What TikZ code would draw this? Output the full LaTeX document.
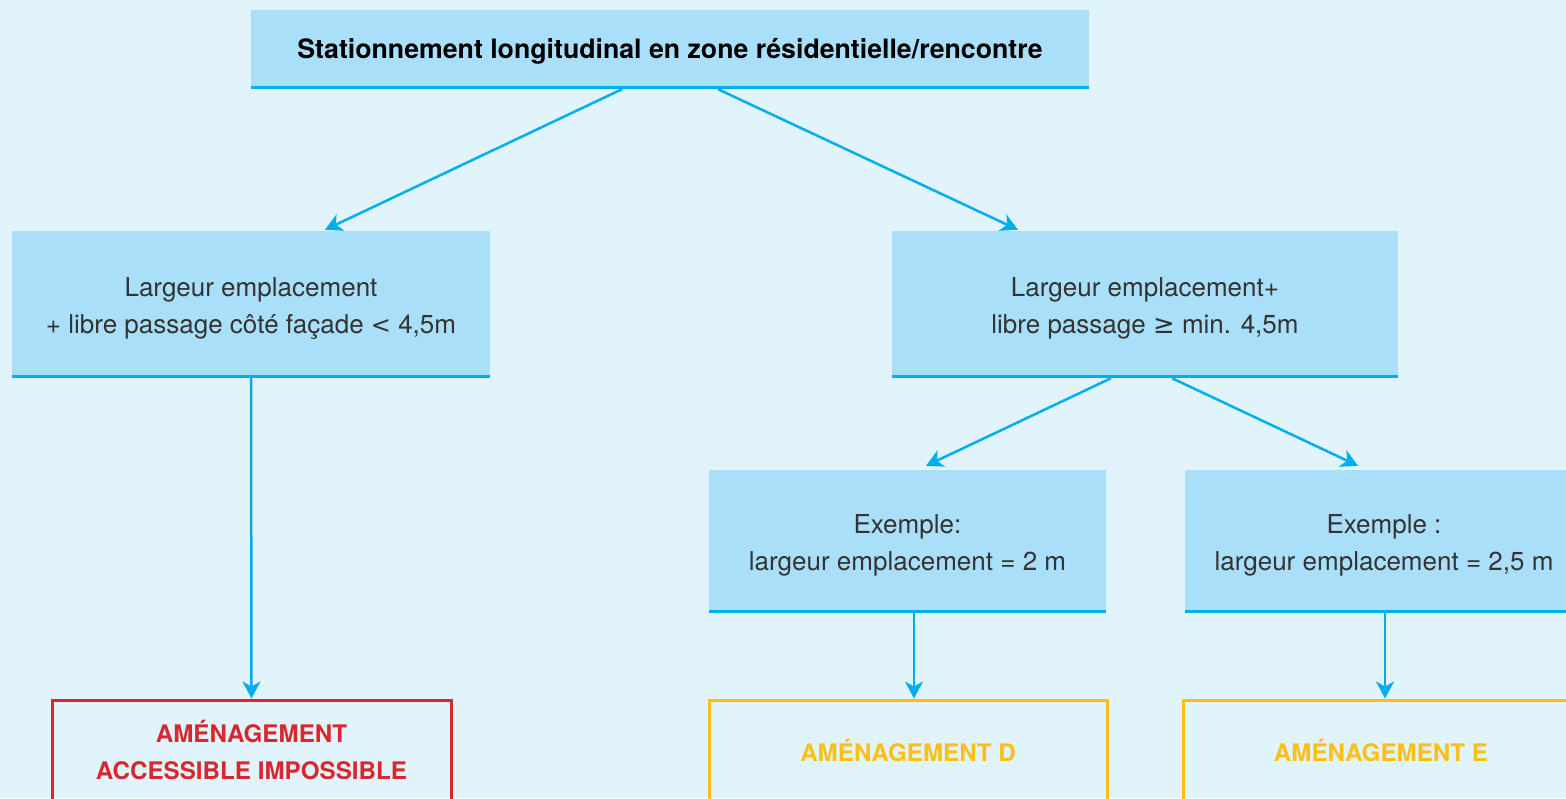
\documentclass[tikz,border=0pt]{standalone}
\usepackage{fontspec}
\setmainfont{TeX Gyre Heros}
\newfontfamily\symfont{DejaVu Sans}
\usetikzlibrary{arrows.meta}
\definecolor{bgblue}{HTML}{E1F3FB}
\definecolor{boxblue}{HTML}{A9DFF9}
\definecolor{lineblue}{HTML}{00AEEF}
\definecolor{alertred}{HTML}{D7282F}
\definecolor{warnyellow}{HTML}{FDBF16}
\definecolor{textgray}{HTML}{333333}
\newcommand{\boxtext}[2]{\raisebox{-4pt}[\height][\depth]{\shortstack{#1\\[10pt]#2}}}
\tikzset{
  box/.style={fill=boxblue, inner sep=0pt, align=center, text=textgray,
    font=\fontsize{26}{38}\selectfont},
  bar/.style={lineblue, line width=3pt},
  arr/.style={lineblue, line width=2.5pt, -{Stealth[length=17pt,width=18pt,inset=5pt]}},
  result/.style={line width=3pt, inner sep=0pt, align=center, minimum height=100pt,
    font=\bfseries\fontsize{24.2}{37}\selectfont},
}
\begin{document}
\begin{tikzpicture}[x=1pt,y=-1pt]
  \fill[bgblue] (0,0) rectangle (1566,798);
  \useasboundingbox (0,0) rectangle (1566,798);
  % question boxes
  \node[box, minimum width=838pt, minimum height=79pt, text=black,
    font=\bfseries\fontsize{26.7}{38}\selectfont] (top) at (670,49.5)
    {\raisebox{-2pt}[\height][\depth]{Stationnement longitudinal en zone résidentielle/rencontre}};
  \node[box, minimum width=478pt, minimum height=147pt] (left) at (251,304.5)
    {\boxtext{Largeur emplacement}{+ libre passage côté façade {\symfont\fontsize{24}{38}\selectfont <} 4,5m}};
  \node[box, minimum width=506pt, minimum height=147pt] (right) at (1145,304.5)
    {\boxtext{Largeur emplacement+}{libre passage {\symfont ≥} min. 4,5m}};
  \node[box, minimum width=397pt, minimum height=143pt] (exa) at (907.5,541.5)
    {\boxtext{Exemple:}{largeur emplacement = 2 m}};
  \node[box, minimum width=398pt, minimum height=143pt] (exb) at (1384,541.5)
    {\boxtext{Exemple :}{largeur emplacement = 2,5 m}};
  \foreach \n in {top, left, right, exa, exb}{
    \draw[bar] ([yshift=1.5pt]\n.south west) -- ([yshift=1.5pt]\n.south east);
  }
  % results
  \node[result, draw=alertred, text=alertred, minimum width=399pt] (resa) at (251.5,750)
    {AMÉNAGEMENT\\ACCESSIBLE IMPOSSIBLE};
  \node[result, draw=warnyellow, text=warnyellow, minimum width=398pt] (resd) at (908,750)
    {AMÉNAGEMENT D};
  \node[result, draw=warnyellow, text=warnyellow, minimum width=396pt] (rese) at (1381,750)
    {AMÉNAGEMENT E};
  % arrows
  \draw[arr] ([xshift=-48pt]top.south) -- ([xshift=74pt,yshift=1pt]left.north);
  \draw[arr] ([xshift=48pt]top.south) -- ([xshift=-127pt,yshift=1pt]right.north);
  \draw[arr] (left.south) -- (resa.north);
  \draw[arr] ([xshift=-34pt]right.south) -- ([xshift=18.5pt,yshift=4pt]exa.north);
  \draw[arr] ([xshift=27pt]right.south) -- ([xshift=-26pt,yshift=4pt]exb.north);
  \draw[arr] ([xshift=6.5pt]exa.south) -- ([xshift=6pt]resd.north);
  \draw[arr] ([xshift=1pt]exb.south) -- ([xshift=4pt]rese.north);
\end{tikzpicture}
\end{document}
